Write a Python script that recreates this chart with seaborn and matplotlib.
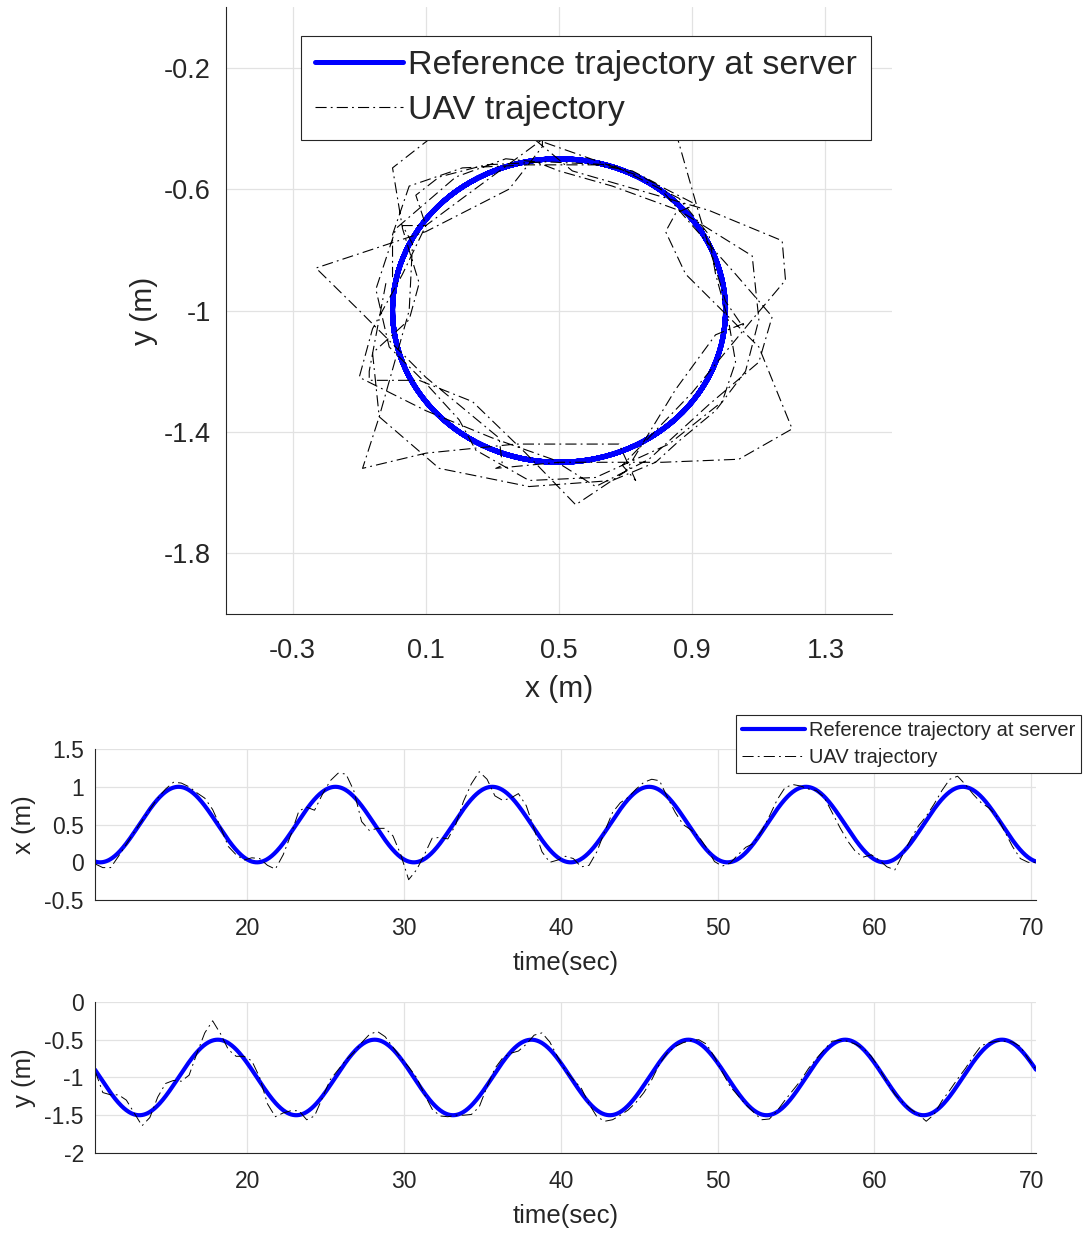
import numpy as np
import pandas as pd
import matplotlib
matplotlib.use("Agg")
import matplotlib.pyplot as plt
import seaborn as sns

# ---------------- data ----------------
# Reference trajectory at the server: a circle
REF_CENTER_X = 0.5      # m
REF_CENTER_Y = -1.0     # m
REF_RADIUS = 0.5        # m
REF_PERIOD = 10.0       # s
REF_T0 = 13.13          # s, time where x crosses the centre going up

T_START, T_END = 10.3, 70.3

# UAV trajectory, sampled every 0.5 s from 10.3 s to 70.3 s
uav_time = np.round(np.arange(T_START, T_END + 0.01, 0.5), 2)

uav_x = [
    -0.02, -0.07, -0.07, 0.08, 0.24, 0.40, 0.55, 0.70, 0.85, 0.97,
    1.06, 1.05, 1.00, 0.92, 0.85, 0.70, 0.47, 0.21, 0.10, 0.03,
    0.06, 0.05, -0.04, -0.09, 0.10, 0.37, 0.68, 0.73, 0.69, 0.90,
    1.08, 1.18, 1.17, 0.95, 0.54, 0.42, 0.45, 0.45, 0.35, 0.10,
    -0.23, -0.10, 0.10, 0.32, 0.33, 0.31, 0.50, 0.81, 1.04, 1.20,
    1.10, 0.88, 0.82, 0.85, 0.91, 0.75, 0.44, 0.14, 0.00, 0.03,
    0.08, 0.05, -0.06, -0.04, 0.14, 0.41, 0.66, 0.79, 0.86, 0.97,
    1.06, 1.10, 1.08, 0.86, 0.66, 0.50, 0.43, 0.34, 0.19, 0.01,
    -0.05, -0.01, 0.10, 0.20, 0.25, 0.41, 0.61, 0.83, 0.99, 1.03,
    1.01, 0.97, 0.95, 0.86, 0.66, 0.46, 0.28, 0.14, 0.07, 0.10,
    0.03, -0.06, -0.10, 0.10, 0.30, 0.48, 0.61, 0.77, 0.95, 1.10,
    1.14, 1.03, 0.90, 0.79, 0.72, 0.61, 0.41, 0.21, 0.05, 0.00,
    0.00,
]

uav_y = [
    -0.91, -1.20, -1.23, -1.23, -1.30, -1.47, -1.64, -1.53, -1.26, -1.08,
    -1.04, -1.05, -0.97, -0.68, -0.41, -0.25, -0.42, -0.63, -0.72, -0.72,
    -0.78, -1.00, -1.35, -1.52, -1.47, -1.44, -1.44, -1.56, -1.51, -1.27,
    -1.03, -0.90, -0.77, -0.67, -0.54, -0.43, -0.39, -0.46, -0.60, -0.74,
    -0.86, -1.00, -1.22, -1.42, -1.51, -1.52, -1.50, -1.50, -1.49, -1.39,
    -1.12, -0.88, -0.74, -0.68, -0.65, -0.56, -0.44, -0.41, -0.53, -0.73,
    -0.91, -1.03, -1.14, -1.35, -1.52, -1.58, -1.56, -1.50, -1.43, -1.33,
    -1.20, -1.03, -0.82, -0.67, -0.59, -0.54, -0.51, -0.50, -0.56, -0.73,
    -0.93, -1.12, -1.24, -1.36, -1.46, -1.56, -1.55, -1.44, -1.30, -1.17,
    -1.04, -0.88, -0.75, -0.63, -0.52, -0.51, -0.52, -0.56, -0.62, -0.72,
    -0.88, -1.06, -1.22, -1.33, -1.42, -1.49, -1.58, -1.49, -1.31, -1.17,
    -1.02, -0.88, -0.72, -0.58, -0.54, -0.52, -0.52, -0.53, -0.59, -0.75,
    -0.89,
]

# tick labels
top_xticks = [-0.3, 0.1, 0.5, 0.9, 1.3]
top_xlabels = ["-0.3", "0.1", "0.5", "0.9", "1.3"]
top_yticks = [-1.8, -1.4, -1.0, -0.6, -0.2]
top_ylabels = ["-1.8", "-1.4", "-1", "-0.6", "-0.2"]
time_ticks = [20, 30, 40, 50, 60, 70]
time_labels = ["20", "30", "40", "50", "60", "70"]
x_ticks = [-0.5, 0, 0.5, 1, 1.5]
x_labels = ["-0.5", "0", "0.5", "1", "1.5"]
y_ticks = [-2, -1.5, -1, -0.5, 0]
y_labels = ["-2", "-1.5", "-1", "-0.5", "0"]

LABEL_REF = "Reference trajectory at server"
LABEL_UAV = "UAV trajectory"

# ---------------- build tables ----------------
ref_t = np.linspace(T_START, T_END, 1501)
ref_phase = 2 * np.pi * (ref_t - REF_T0) / REF_PERIOD
ref_df = pd.DataFrame({
    "t": ref_t,
    "x": REF_CENTER_X + REF_RADIUS * np.sin(ref_phase),
    "y": REF_CENTER_Y - REF_RADIUS * np.cos(ref_phase),
})
uav_df = pd.DataFrame({"t": uav_time, "x": uav_x, "y": uav_y})

# ---------------- style ----------------
sns.set_theme(style="white")
plt.rcParams["font.family"] = ["Liberation Sans", "DejaVu Sans"]
plt.rcParams["axes.unicode_minus"] = False
plt.rcParams["lines.scale_dashes"] = False

AX_COLOR = "#262626"
GRID_COLOR = "#e2e2e2"
BLUE = "#0000ff"
DASHDOT = (0, (8, 3, 1.3, 3))

fig = plt.figure(figsize=(10.83, 12.33), dpi=100)
ax1 = fig.add_axes([0.2087, 0.502, 0.615, 0.4923])
ax2 = fig.add_axes([0.0877, 0.270, 0.8689, 0.1225])
ax3 = fig.add_axes([0.0877, 0.0649, 0.8689, 0.1225])


def style_axes(ax, tick_size, pad_x, pad_y):
    ax.set_facecolor("white")
    ax.grid(True, color=GRID_COLOR, linewidth=0.9)
    ax.set_axisbelow(True)
    for side in ["top", "right"]:
        ax.spines[side].set_visible(False)
    for side in ["left", "bottom"]:
        ax.spines[side].set_visible(True)
        ax.spines[side].set_color(AX_COLOR)
        ax.spines[side].set_linewidth(0.8)
    ax.tick_params(axis="both", direction="in", length=5, width=0.8,
                   color=AX_COLOR, labelcolor=AX_COLOR, labelsize=tick_size)
    ax.tick_params(axis="x", pad=pad_x)
    ax.tick_params(axis="y", pad=pad_y)


# ---- top panel: x-y trajectory ----
sns.lineplot(data=ref_df, x="x", y="y", sort=False, estimator=None, ax=ax1,
             color=BLUE, linewidth=3.6, label=LABEL_REF)
sns.lineplot(data=uav_df, x="x", y="y", sort=False, estimator=None, ax=ax1,
             color="black", linewidth=0.8, linestyle=DASHDOT, label=LABEL_UAV)
ax1.set_xlim(-0.5, 1.5)
ax1.set_ylim(-2.0, 0.0)
ax1.set_xticks(top_xticks, top_xlabels)
ax1.set_yticks(top_yticks, top_ylabels)
style_axes(ax1, 19.5, 17, 11)
ax1.set_xlabel("x (m)", fontsize=21.5, color=AX_COLOR, labelpad=8)
ax1.set_ylabel("y (m)", fontsize=21.5, color=AX_COLOR, labelpad=4)
leg1 = ax1.legend(loc="upper left", bbox_to_anchor=(0.1126, 0.952),
                  fontsize=24.5, frameon=True, fancybox=False, framealpha=1,
                  edgecolor=AX_COLOR, borderpad=0.4, labelspacing=0.42,
                  handlelength=2.6, handletextpad=0.15, borderaxespad=0)
leg1.get_frame().set_linewidth(0.8)

# ---- middle panel: x(t) ----
sns.lineplot(data=ref_df, x="t", y="x", estimator=None, ax=ax2,
             color=BLUE, linewidth=3.0, label=LABEL_REF)
sns.lineplot(data=uav_df, x="t", y="x", estimator=None, ax=ax2,
             color="black", linewidth=0.7, linestyle=DASHDOT, label=LABEL_UAV)
ax2.set_xlim(T_START, T_END)
ax2.set_ylim(-0.5, 1.5)
ax2.set_xticks(time_ticks, time_labels)
ax2.set_yticks(x_ticks, x_labels)
style_axes(ax2, 16.5, 12, 8)
ax2.set_xlabel("time(sec)", fontsize=18.5, color=AX_COLOR, labelpad=8)
ax2.set_ylabel("x (m)", fontsize=18.5, color=AX_COLOR, labelpad=6)
leg2 = ax2.legend(loc="upper right", bbox_to_anchor=(1081 / 1083, 1 - 715 / 1233),
                  bbox_transform=fig.transFigure,
                  fontsize=14.5, frameon=True, fancybox=False, framealpha=1,
                  edgecolor=AX_COLOR, borderpad=0.3, labelspacing=0.4,
                  handlelength=3.1, handletextpad=0.2, borderaxespad=0)
leg2.get_frame().set_linewidth(0.8)

# ---- bottom panel: y(t) ----
sns.lineplot(data=ref_df, x="t", y="y", estimator=None, ax=ax3,
             color=BLUE, linewidth=3.0, legend=False)
sns.lineplot(data=uav_df, x="t", y="y", estimator=None, ax=ax3,
             color="black", linewidth=0.7, linestyle=DASHDOT, legend=False)
ax3.set_xlim(T_START, T_END)
ax3.set_ylim(-2.0, 0.0)
ax3.set_xticks(time_ticks, time_labels)
ax3.set_yticks(y_ticks, y_labels)
style_axes(ax3, 16.5, 12, 8)
ax3.set_xlabel("time(sec)", fontsize=18.5, color=AX_COLOR, labelpad=8)
ax3.set_ylabel("y (m)", fontsize=18.5, color=AX_COLOR, labelpad=6)

fig.savefig("out.png", dpi=100, facecolor="white")
